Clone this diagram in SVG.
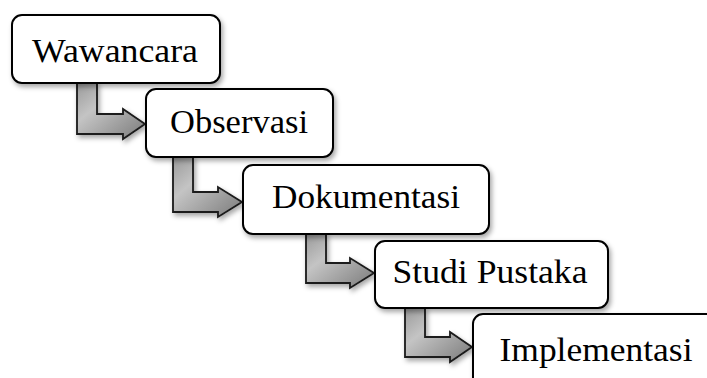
<svg xmlns="http://www.w3.org/2000/svg" width="707" height="378" viewBox="0 0 707 378">
<defs>
<filter id="sh" x="-20%" y="-20%" width="140%" height="150%">
<feDropShadow dx="2" dy="3" stdDeviation="2.5" flood-color="#000" flood-opacity="0.35"/>
</filter>
<linearGradient id="ag" x1="0" y1="0" x2="1" y2="1">
<stop offset="0" stop-color="#9a9a9a"/>
<stop offset="0.35" stop-color="#c4c4c4"/>
<stop offset="1" stop-color="#7a7a7a"/>
</linearGradient>
<style>
.box{fill:#fff;stroke:#000;stroke-width:2;filter:url(#sh)}
.arr{fill:url(#ag);stroke:#1a1a1a;stroke-width:1.8;stroke-linejoin:miter;filter:url(#sh)}
.lbl{font-family:"Liberation Serif","Times New Roman",serif;font-size:34px;fill:#000;text-anchor:middle}
</style>
</defs>
<g id="connectors">
<path class="arr" d="M77,83 H97 V114 H123 V109 L145,124 L123,139 V134 H77 Z"/>
<path class="arr" d="M173,157 H193 V192 H218 V187 L242,202 L218,217 V212 H173 Z"/>
<path class="arr" d="M306,234 H326 V263 H350 V258 L374,273 L350,288 V283 H306 Z"/>
<path class="arr" d="M405,308 H425 V337 H450 V332 L472,347 L450,362 V357 H405 Z"/>
</g>
<g id="n1">
<rect class="box" x="12" y="15" width="208" height="68" rx="10"/>
<text class="lbl" x="115" y="62" textLength="166" lengthAdjust="spacingAndGlyphs">Wawancara</text>
</g>
<g id="n2">
<rect class="box" x="146" y="89" width="187" height="68" rx="10"/>
<text class="lbl" x="239" y="133" textLength="138" lengthAdjust="spacingAndGlyphs">Observasi</text>
</g>
<g id="n3">
<rect class="box" x="243" y="165" width="246" height="69" rx="10"/>
<text class="lbl" x="366" y="208" textLength="188" lengthAdjust="spacingAndGlyphs">Dokumentasi</text>
</g>
<g id="n4">
<rect class="box" x="375" y="241" width="233" height="67" rx="10"/>
<text class="lbl" x="490" y="283" textLength="195" lengthAdjust="spacingAndGlyphs">Studi Pustaka</text>
</g>
<g id="n5">
<rect class="box" x="473" y="314" width="270" height="100" rx="10"/>
<text class="lbl" x="596" y="361" textLength="193" lengthAdjust="spacingAndGlyphs">Implementasi</text>
</g>
</svg>
